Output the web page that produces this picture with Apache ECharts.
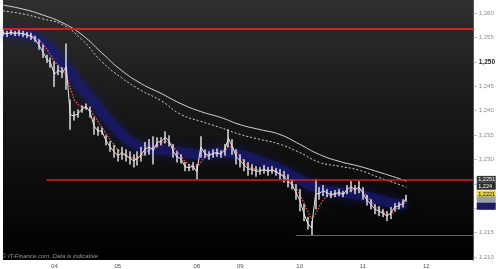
<!DOCTYPE html>
<html><head><meta charset="utf-8">
<script src="https://cdn.jsdelivr.net/npm/echarts@6.0.0/dist/echarts.min.js"></script>
<style>html,body{margin:0;padding:0;background:#fff}#c{width:498px;height:269px}</style>
</head><body><div id="c"></div>
<script>
// ---- data ----
const categoryCount = 120;
const dayTickIndex = [13, 29, 49, 60, 75, 91, 107];
const dayTickText = ['04', '05', '08', '09', '10', '11', '12'];

const priceHigh = [
 1.2565,1.2563,1.2565,1.2563,1.2565,1.2563,1.2561,1.2559,1.2553,1.2545,
 1.2535,1.2514,1.2508,1.2500,1.2492,1.2488,1.2537,1.2422,1.2398,1.2402,
 1.2410,1.2414,1.2408,1.2386,1.2367,1.2365,1.2349,1.2337,1.2329,1.2320,
 1.2325,1.2320,1.2316,1.2310,1.2316,1.2325,1.2335,1.2341,1.2347,1.2345,
 1.2345,1.2357,1.2349,1.2331,1.2316,1.2310,1.2294,1.2290,1.2294,1.2290,
 1.2347,1.2320,1.2316,1.2320,1.2322,1.2318,1.2331,1.2361,1.2341,1.2320,
 1.2310,1.2300,1.2294,1.2290,1.2286,1.2284,1.2288,1.2284,1.2286,1.2282,
 1.2280,1.2276,1.2269,1.2259,1.2249,1.2239,1.2208,1.2182,1.2174,1.2259,
 1.2243,1.2247,1.2239,1.2235,1.2237,1.2239,1.2235,1.2247,1.2255,1.2247,
 1.2255,1.2243,1.2227,1.2218,1.2208,1.2204,1.2198,1.2194,1.2202,1.2210,
 1.2212,1.2218,1.2227
];
const priceLow = [
 1.2553,1.2551,1.2555,1.2553,1.2553,1.2551,1.2549,1.2545,1.2541,1.2525,
 1.2508,1.2498,1.2488,1.2449,1.2473,1.2467,1.2443,1.2361,1.2380,1.2386,
 1.2396,1.2402,1.2386,1.2351,1.2349,1.2351,1.2329,1.2316,1.2304,1.2296,
 1.2300,1.2296,1.2290,1.2284,1.2288,1.2296,1.2308,1.2310,1.2290,1.2325,
 1.2329,1.2333,1.2327,1.2304,1.2294,1.2292,1.2276,1.2276,1.2278,1.2259,
 1.2304,1.2304,1.2300,1.2304,1.2306,1.2304,1.2308,1.2325,1.2310,1.2290,
 1.2284,1.2276,1.2267,1.2269,1.2265,1.2269,1.2271,1.2267,1.2271,1.2267,
 1.2259,1.2253,1.2243,1.2239,1.2218,1.2194,1.2174,1.2157,1.2145,1.2198,
 1.2218,1.2225,1.2223,1.2221,1.2223,1.2225,1.2223,1.2229,1.2233,1.2229,
 1.2231,1.2218,1.2206,1.2198,1.2188,1.2184,1.2182,1.2174,1.2178,1.2194,
 1.2198,1.2202,1.2214
];
const fastMA = [
 1.2559,1.2559,1.2559,1.2559,1.2559,1.2557,1.2557,1.2555,1.2551,1.2545,
 1.2537,1.2527,1.2514,1.2500,1.2492,1.2484,1.2471,1.2447,1.2422,1.2412,
 1.2408,1.2406,1.2402,1.2390,1.2378,1.2365,1.2353,1.2341,1.2331,1.2320,
 1.2314,1.2310,1.2306,1.2302,1.2302,1.2306,1.2314,1.2320,1.2325,1.2329,
 1.2333,1.2337,1.2335,1.2327,1.2316,1.2306,1.2296,1.2290,1.2286,1.2284,
 1.2294,1.2304,1.2308,1.2310,1.2312,1.2312,1.2316,1.2327,1.2325,1.2316,
 1.2304,1.2294,1.2286,1.2282,1.2280,1.2278,1.2278,1.2278,1.2278,1.2276,
 1.2271,1.2267,1.2261,1.2253,1.2243,1.2229,1.2212,1.2194,1.2178,1.2188,
 1.2204,1.2218,1.2225,1.2227,1.2229,1.2229,1.2229,1.2233,1.2237,1.2239,
 1.2239,1.2235,1.2225,1.2214,1.2204,1.2198,1.2192,1.2188,1.2188,1.2194,
 1.2202,1.2208,1.2214
];
const maIndex = [0,5,10,15,20,25,30,35,40,45,50,55,60,65,70,75,80,85,90,95,100,102];
const slowMA = [1.2616,1.2608,1.2596,1.2580,1.2555,1.2518,1.2482,1.2455,1.2435,1.2414,1.2398,
                1.2386,1.2371,1.2361,1.2351,1.2331,1.2310,1.2296,1.2286,1.2274,1.2261,1.2255];
const slowBand = [1.2604,1.2598,1.2588,1.2576,1.2545,1.2500,1.2467,1.2441,1.2420,1.2392,1.2378,
                  1.2365,1.2351,1.2341,1.2331,1.2314,1.2294,1.2286,1.2278,1.2263,1.2249,1.2243];
const blueMA = [1.2559,1.2557,1.2541,1.2500,1.2447,1.2398,1.2351,1.2325,1.2320,1.2314,1.2310,
                1.2314,1.2310,1.2296,1.2280,1.2259,1.2239,1.2233,1.2227,1.2218,1.2208,1.2208];

const yTickValues = [1.210,1.215,1.220,1.225,1.230,1.235,1.240,1.245,1.250,1.255,1.260];
const resistanceTop = 1.2567, resistanceTopStart = 0;
const resistanceLow = 1.2259, resistanceLowStart = 11;
const supportLevel = 1.2145, supportStart = 74;

const tagValues = [1.2259, 1.2245, 1.2229, 1.2217, 1.2204];
const tagTexts  = ['1,2251', '1,224', '1,2221', '', ''];
const tagFills  = ['#3a3a3a', '#2c2c2c', '#e4d23a', '#9aa0a8', '#1c1c66'];
const tagInk    = ['#fff', '#fff', '#222', '#222', '#fff'];

// ---- build ----
const categories = Array.from({length: categoryCount}, () => '');
dayTickIndex.forEach((ix, k) => { categories[ix] = dayTickText[k]; });
const candles = priceHigh.map((h, i) => [priceLow[i], h, priceLow[i], h]);
const midPrice = priceHigh.map((h, i) => (h + priceLow[i]) / 2);
const pairs = arr => maIndex.map((ix, k) => [ix, arr[k]]);
const lastIx = categoryCount - 1;

const chart = echarts.init(document.getElementById('c'), null, {renderer: 'canvas'});
const option = {
  animation: false,
  backgroundColor: '#ffffff',
  grid: {
    left: 0, right: 22, top: 0, bottom: 8, show: true, borderWidth: 0,
    backgroundColor: {type: 'linear', x: 0, y: 0, x2: 0, y2: 1,
      colorStops: [{offset: 0, color: '#2f2f2f'}, {offset: 0.45, color: '#171717'}, {offset: 1, color: '#000000'}]}
  },
  xAxis: {
    type: 'category', data: categories, boundaryGap: false,
    axisLine: {show: false}, axisTick: {show: false}, splitLine: {show: false},
    axisLabel: {interval: 0, fontSize: 6, color: '#555', margin: 3, fontFamily: 'Liberation Sans'}
  },
  yAxis: {
    type: 'value', position: 'right', min: 1.20939, max: 1.26265, scale: true,
    splitLine: {show: false},
    axisLine: {show: true, lineStyle: {color: '#555', width: 1}},
    axisTick: {show: true, length: 3, inside: false, customValues: yTickValues, lineStyle: {color: '#bbb'}},
    axisLabel: {
      customValues: yTickValues, fontSize: 6, color: '#8a8a8a', margin: 5, fontFamily: 'Liberation Sans',
      formatter: v => {
        const s = v.toFixed(3).replace('.', ',');
        return Math.abs(v - 1.25) < 1e-6 ? '{b|' + s + '}' : s;
      },
      rich: {b: {fontSize: 6.5, fontWeight: 'bold', color: '#222', fontFamily: 'Liberation Sans'}}
    }
  },
  series: [
    {type: 'line', data: pairs(blueMA), smooth: 0.3, symbol: 'none', silent: true, z: 1,
     lineStyle: {color: '#1a1a78', width: 10, opacity: 0.6, cap: 'butt', join: 'round',
                 shadowColor: 'rgba(25,25,140,0.85)', shadowBlur: 10}},
    {type: 'line', data: pairs(slowMA), smooth: true, symbol: 'none', silent: true, z: 2,
     lineStyle: {color: '#d6d6d6', width: 1}},
    {type: 'line', data: pairs(slowBand), smooth: true, symbol: 'none', silent: true, z: 2,
     lineStyle: {color: '#cfcfcf', width: 1, type: [2, 2]}},
    {type: 'line', data: fastMA, symbol: 'none', silent: true, z: 3,
     lineStyle: {color: '#e05a50', width: 1.3, type: [1.5, 1.5]},
     markLine: {
       silent: true, symbol: 'none', label: {show: false},
       data: [
         [{coord: [resistanceTopStart, resistanceTop], lineStyle: {color: '#d42020', width: 2, type: 'solid'}}, {coord: [lastIx, resistanceTop]}],
         [{coord: [resistanceLowStart, resistanceLow], lineStyle: {color: '#d42020', width: 1.5, type: 'solid'}}, {coord: [lastIx, resistanceLow]}],
         [{coord: [supportStart, supportLevel], lineStyle: {color: '#3f7f3f', width: 1, type: 'solid'}}, {coord: [lastIx, supportLevel]}]
       ]
     }},
    {type: 'line', data: midPrice, symbol: 'none', silent: true, z: 4,
     lineStyle: {color: '#e6e6e6', width: 1}},
    {type: 'candlestick', data: candles, barWidth: 1.5, silent: true, z: 4,
     itemStyle: {color: '#ececec', color0: '#ececec', borderColor: '#e8e8e8', borderColor0: '#e8e8e8', borderWidth: 0.4}}
  ]
};
chart.setOption(option);

// value tags on the right scale, positioned through the y axis
const tagX = chart.convertToPixel({xAxisIndex: 0}, lastIx) + 3;
const graphics = [];
tagValues.forEach((v, k) => {
  const y = chart.convertToPixel({yAxisIndex: 0}, v);
  graphics.push({type: 'rect', left: tagX, top: y - 3.5, shape: {width: 19, height: 7}, style: {fill: tagFills[k]}, z: 10});
  if (tagTexts[k]) graphics.push({type: 'text', left: tagX + 1.5, top: y - 3, style: {text: tagTexts[k], fill: tagInk[k], fontSize: 5.5, fontFamily: 'Liberation Sans'}, z: 11});
});
graphics.push({type: 'text', left: 2, top: 253, style: {text: '© IT-Finance.com. Data is indicative', fill: '#9a9a9a', fontSize: 6, fontStyle: 'italic', fontFamily: 'Liberation Sans'}, z: 10});
chart.setOption({graphic: graphics});
</script></body></html>
